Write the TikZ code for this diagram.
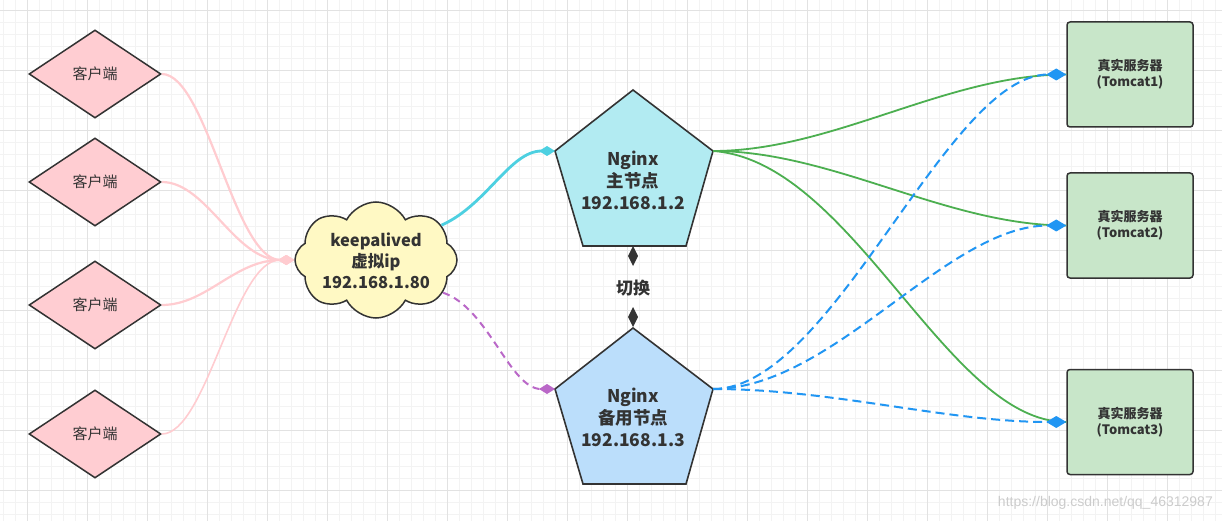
\documentclass[tikz,border=0pt]{standalone}
\usepackage{fontspec}
\newfontfamily\cjk{Noto Sans CJK SC}
\newfontfamily\wmfont{Liberation Sans}
\usetikzlibrary{shapes.geometric,shapes.symbols,arrows.meta}
\definecolor{bordc}{HTML}{333333}
\definecolor{gridmin}{HTML}{F3F3F3}
\definecolor{gridmaj}{HTML}{E2E2E2}
\definecolor{pinkfill}{HTML}{FFCDD2}
\definecolor{pinkline}{HTML}{FFCCD0}
\definecolor{cloudfill}{HTML}{FFF9C4}
\definecolor{pentA}{HTML}{B2EBF2}
\definecolor{pentB}{HTML}{BBDEFB}
\definecolor{servfill}{HTML}{C8E6C9}
\definecolor{cyanline}{HTML}{4DD0E1}
\definecolor{purpline}{HTML}{BA68C8}
\definecolor{greenline}{HTML}{4CAF50}
\definecolor{blueline}{HTML}{2196F3}
\begin{document}
\begin{tikzpicture}[x=1pt,y=-1pt,
  gminor/.style={draw=gridmin,line width=0.8pt},
  gmajor/.style={draw=gridmaj,line width=0.8pt},
  client/.style={diamond,draw=bordc,fill=pinkfill,line width=1.5pt,minimum width=132pt,minimum height=88pt,inner sep=0pt,text=bordc,font=\cjk\fontsize{15}{18}\selectfont},
  cloudsh/.style={cloud,cloud puffs=8,cloud puff arc=125,cloud ignores aspect,draw=bordc,fill=cloudfill,line width=1.5pt,minimum width=162pt,minimum height=116pt,inner sep=0pt},
  bigtxt/.style={align=center,text=bordc,inner sep=0pt,font=\cjk\bfseries\fontsize{17.5}{22}\selectfont},
  cloudtxt/.style={align=center,text=bordc,inner sep=0pt,font=\cjk\bfseries\fontsize{16.5}{21}\selectfont},
  pent/.style={draw=bordc,line width=1.6pt},
  server/.style={rectangle,rounded corners=3pt,draw=bordc,fill=servfill,line width=1.5pt,minimum width=126pt,minimum height=105pt,align=center,text=bordc,font=\cjk\bfseries\fontsize{13}{16}\selectfont},
  pinkc/.style={draw=pinkline,line width=2.2pt,-{Diamond[length=16pt,width=10pt]}},
  cyanc/.style={draw=cyanline,line width=2.8pt,-{Diamond[length=16pt,width=10pt]}},
  purpc/.style={draw=purpline,line width=2pt,dash pattern=on 7pt off 5pt,-{Diamond[length=16pt,width=10pt]}},
  greenc/.style={draw=greenline,line width=1.8pt},
  bluec/.style={draw=blueline,line width=2pt,dash pattern=on 9pt off 5pt,-{Diamond[length=20pt,width=12pt]}}
]
\useasboundingbox (0,0) rectangle (1222,521);
\fill[white] (0,0) rectangle (1222,521);
% grid
\foreach \x in {3,15,...,1221} \draw[gminor] (\x,0) -- (\x,521);
\foreach \y in {10,22,...,520} \draw[gminor] (0,\y) -- (1222,\y);
\foreach \x in {27,87,...,1221} \draw[gmajor] (\x,0) -- (\x,521);
\foreach \y in {10,70,...,520} \draw[gmajor] (0,\y) -- (1222,\y);

% clients
\node[client] (c1) at (95,74) {客户端};
\node[client] (c2) at (95,182) {客户端};
\node[client] (c3) at (95,305) {客户端};
\node[client] (c4) at (95,434) {客户端};

% cloud
\node[cloudsh] (kl) at (376,260) {};
\node[cloudtxt] (klt) at (376,261) {keepalived\\虚拟ip\\192.168.1.80};

% pentagons
\coordinate (p1t) at (633,90);
\coordinate (p1r) at (713,151);
\coordinate (p1br) at (686,246);
\coordinate (p1bl) at (583,246);
\coordinate (p1l) at (555,151);
\coordinate (p1b) at (633,246);
\draw[pent,fill=pentA] (p1t) -- (p1r) -- (p1br) -- (p1bl) -- (p1l) -- cycle;
\node[bigtxt] (p1txt) at (633,180) {Nginx\\主节点\\192.168.1.2};

\coordinate (p2t) at (633,328);
\coordinate (p2r) at (713,389);
\coordinate (p2br) at (686,484);
\coordinate (p2bl) at (583,484);
\coordinate (p2l) at (555,389);
\draw[pent,fill=pentB] (p2t) -- (p2r) -- (p2br) -- (p2bl) -- (p2l) -- cycle;
\node[bigtxt] (p2txt) at (633,417) {Nginx\\备用节点\\192.168.1.3};

% switch
\fill[bordc] (p1b) ++(0,0) -- ++(5,10) -- ++(-5,10) -- ++(-5,-10) -- cycle;
\fill[bordc] (p2t) ++(0,-1) -- ++(5,-10) -- ++(-5,-10) -- ++(-5,10) -- cycle;
\node[cloudtxt,font=\cjk\bfseries\fontsize{17}{20}\selectfont] (sw) at (633,288) {切换};

% servers
\node[server] (s1) at (1130,74.5) {真实服务器\\(Tomcat1)};
\node[server] (s2) at (1130,225.5) {真实服务器\\(Tomcat2)};
\node[server] (s3) at (1130,422) {真实服务器\\(Tomcat3)};

% client connectors
\draw[pinkc] (c1.east) .. controls +(45,0) and +(-60,0) .. (kl.west);
\draw[pinkc] (c2.east) .. controls +(45,0) and +(-60,0) .. (kl.west);
\draw[pinkc] (c3.east) .. controls +(45,0) and +(-60,0) .. (kl.west);
\draw[pinkc,line width=1.6pt] (c4.east) .. controls +(45,0) and +(-60,0) .. (kl.west);

% cloud to nginx
\draw[cyanc] (kl.28) .. controls +(45,-20) and +(-45,0) .. (p1l);
\draw[purpc] (kl.-26) .. controls +(45,15) and +(-45,0) .. (p2l);

% green
\draw[greenc] (p1r) .. controls +(120,0) and +(-120,0) .. (s1.west);
\draw[greenc] (p1r) .. controls +(120,0) and +(-120,0) .. (s2.west);
\draw[greenc] (p1r) .. controls +(140,10) and +(-120,0) .. (s3.west);

% blue dashed
\draw[bluec] (p2r) .. controls +(120,0) and +(-120,0) .. (s1.west);
\draw[bluec] (p2r) .. controls +(120,0) and +(-120,0) .. (s2.west);
\draw[bluec] (p2r) .. controls +(120,0) and +(-120,0) .. (s3.west);

% watermark
\node[anchor=east,inner sep=0pt,text=gray!40,font=\wmfont\fontsize{14}{16}\selectfont] (wm) at (1213,503) {https://blog.csdn.net/qq\_46312987};
\end{tikzpicture}
\end{document}
